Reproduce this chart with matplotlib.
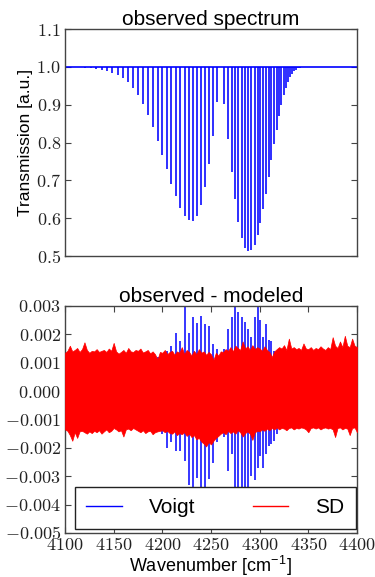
import numpy as np
import matplotlib
matplotlib.use("Agg")
import matplotlib.pyplot as plt
from matplotlib.ticker import FuncFormatter, MultipleLocator
from matplotlib.lines import Line2D

plt.rcParams['font.family'] = ['Liberation Sans', 'DejaVu Sans']
plt.rcParams['mathtext.fontset'] = 'cm'

# CO 2-0 band: line centres [cm-1] and transmission at line centre
p_centers = [4256.2, 4252.3, 4248.3, 4244.3, 4240.1, 4235.9, 4231.7, 4227.3, 4222.9, 4218.5,
             4213.9, 4209.3, 4204.6, 4199.9, 4195.1, 4190.2, 4185.2, 4180.2, 4175.1, 4170.0,
             4164.8, 4159.5, 4154.1, 4148.7, 4143.2, 4137.6, 4132.0, 4126.3, 4120.5, 4114.7]
p_trans = [0.906, 0.818, 0.743, 0.683, 0.635, 0.606, 0.593, 0.594, 0.606, 0.628,
           0.658, 0.691, 0.729, 0.766, 0.804, 0.841, 0.874, 0.901, 0.925, 0.944,
           0.960, 0.971, 0.978, 0.985, 0.989, 0.993, 0.995, 0.997, 0.998, 0.999]
r_centers = [4263.8, 4267.5, 4271.2, 4274.7, 4278.2, 4281.7, 4285.0, 4288.3, 4291.5, 4294.7,
             4297.8, 4300.8, 4303.7, 4306.6, 4309.4, 4312.1, 4314.8, 4317.4, 4319.9, 4322.3,
             4324.7, 4327.0, 4329.3, 4331.4, 4333.5, 4335.5, 4337.4, 4339.3, 4341.1]
r_trans = [0.903, 0.809, 0.722, 0.650, 0.590, 0.548, 0.522, 0.512, 0.517, 0.530,
           0.555, 0.586, 0.624, 0.665, 0.709, 0.753, 0.795, 0.834, 0.870, 0.900,
           0.925, 0.943, 0.960, 0.974, 0.982, 0.989, 0.993, 0.996, 0.998]
continuum = 1.0

# observed - modeled with Voigt profile, max / min at each line [1e-3]
p_voigt_hi = [1.5, 1.65, 2.3, 2.35, 2.65, 2.4, 2.6, 2.05, 3.0, 1.75, 2.05, 1.6, 1.4, 1.3, 1.2,
              1.1, 1.0, 0.9, 0.8, 0.7, 0.6, 0.5, 0.4, 0.3, 0.3, 0.2, 0.2, 0.1, 0.1, 0.1]
p_voigt_lo = [-1.8, -2.55, -3.1, -4.2, -3.9, -3.05, -3.5, -3.3, -2.45, -2.1, -2.1, -1.8, -2.0, -1.5, -1.3,
              -1.2, -1.1, -1.0, -0.9, -0.8, -0.7, -0.6, -0.5, -0.4, -0.3, -0.3, -0.2, -0.2, -0.1, -0.1]
r_voigt_hi = [1.5, 2.2, 2.6, 2.95, 2.8, 2.6, 2.45, 2.2, 1.9, 2.6, 2.95, 2.5, 1.9, 2.35, 1.8,
              1.75, 1.4, 1.3, 1.2, 1.0, 0.9, 0.8, 0.6, 0.5, 0.4, 0.3, 0.2, 0.2, 0.1]
r_voigt_lo = [-1.6, -2.8, -2.2, -4.3, -4.6, -4.4, -4.0, -3.8, -3.0, -3.15, -2.7, -2.3, -2.7, -2.2, -1.95,
              -1.85, -1.75, -1.5, -1.3, -1.2, -1.0, -0.9, -0.7, -0.6, -0.5, -0.4, -0.3, -0.2, -0.1]

# observed - modeled with speed-dependent (SD) profile: noise envelope [1e-3], 2.5 cm-1 bins from 4100
sd_upper = [1.35, 1.42, 1.60, 1.40, 1.45, 1.52, 1.38, 1.48, 1.72, 1.45, 1.35, 1.42, 1.40, 1.48, 1.38, 1.42, 1.45, 1.38, 1.50, 1.42,
            1.70, 1.40, 1.32, 1.38, 1.45, 1.35, 1.52, 1.40, 1.38, 1.45, 1.42, 1.50, 1.36, 1.40, 1.45, 1.33, 1.40, 1.30, 1.12, 1.38,
            1.35, 1.45, 1.30, 1.38, 1.42, 1.28, 1.40, 1.35, 1.55, 1.30, 1.45, 1.38, 1.25, 1.42, 1.30, 1.48, 1.35, 1.40, 1.28, 1.38,
            1.30, 1.10, 1.35, 1.25, 1.40, 1.38, 1.48, 1.42, 1.55, 1.40, 1.60, 1.52, 1.45, 1.75, 1.50, 1.58, 1.45, 1.62, 1.48, 1.55,
            1.50, 1.42, 1.58, 1.45, 1.38, 1.20, 1.40, 1.48, 1.55, 1.50, 1.62, 1.45, 1.85, 1.50, 1.55, 1.48, 1.52, 1.45, 1.68, 1.50,
            1.48, 1.55, 1.45, 1.52, 1.48, 1.58, 1.50, 1.45, 1.55, 1.48, 1.90, 1.60, 1.52, 1.75, 1.55, 1.95, 1.60, 1.55, 1.85, 1.60, 1.55]
sd_lower = [-1.35, -1.40, -1.55, -1.75, -1.45, -1.65, -1.42, -1.40, -1.45, -1.50, -1.42, -1.48, -1.40, -1.45, -1.38, -1.50, -1.42, -1.35, -1.45, -1.40,
            -1.30, -1.35, -1.42, -1.38, -1.60, -1.35, -1.32, -1.38, -1.30, -1.35, -1.40, -1.45, -1.38, -1.48, -1.42, -1.40, -1.52, -1.45, -1.42, -1.40,
            -1.38, -1.45, -1.40, -1.48, -1.50, -1.42, -1.55, -1.48, -1.52, -1.45, -1.58, -1.50, -1.62, -1.55, -1.70, -1.65, -1.78, -1.85, -1.95, -1.80,
            -1.88, -1.75, -1.65, -1.58, -1.50, -1.45, -1.52, -1.40, -1.48, -1.42, -1.50, -1.38, -1.45, -1.60, -1.48, -1.42, -1.50, -1.72, -1.45, -1.40,
            -1.42, -1.35, -1.40, -1.32, -1.38, -1.30, -1.35, -1.28, -1.35, -1.30, -1.32, -1.38, -1.30, -1.28, -1.35, -1.30, -1.32, -1.28, -1.30, -1.35,
            -1.45, -1.30, -1.28, -1.32, -1.28, -1.35, -1.30, -1.28, -1.32, -1.30, -1.35, -1.62, -1.30, -1.28, -1.35, -1.30, -1.32, -1.55, -1.30, -1.28, -1.45]
sd_step = 2.5
wn_min, wn_max = 4100, 4400


def math_fmt(decimals):
    return FuncFormatter(lambda v, pos: "$%.*f$" % (decimals, 0.0 if abs(v) < 1e-12 else v))


def style_axes(ax):
    for sp in ax.spines.values():
        sp.set_color('#444444')
        sp.set_linewidth(1.0)
    ax.tick_params(direction='in', length=4.5, width=0.8, color='#444444',
                   labelsize=13, labelcolor='#222222', pad=3)


fig = plt.figure(figsize=(3.75, 5.77), dpi=100)
ax1 = fig.add_axes([0.1733, 0.5563, 0.7787, 0.3934])
ax2 = fig.add_axes([0.1733, 0.0763, 0.7787, 0.3934])

# top: observed spectrum
centers = np.array(p_centers + r_centers)
trans = np.array(p_trans + r_trans)
ax1.axhline(continuum, color='b', lw=1.2)
ax1.vlines(centers, trans, continuum, color='b', lw=1.15)
ax1.set_xlim(wn_min, wn_max)
ax1.set_ylim(0.5, 1.1)
ax1.yaxis.set_major_locator(MultipleLocator(0.1))
ax1.yaxis.set_major_formatter(math_fmt(1))
ax1.set_xticks([])
style_axes(ax1)
ax1.tick_params(right=True)
ax1.set_ylabel("Transmission [a.u.]", fontsize=12.5, labelpad=2)
ax1.set_title("observed spectrum", fontsize=15, pad=3)

# bottom: residuals
v_hi = np.array(p_voigt_hi + r_voigt_hi) * 1e-3
v_lo = np.array(p_voigt_lo + r_voigt_lo) * 1e-3
ax2.vlines(centers, v_lo, v_hi, color='b', lw=1.1, zorder=2)
sd_wn = wn_min + sd_step * np.arange(len(sd_upper))
ax2.fill_between(sd_wn, np.array(sd_lower) * 1e-3, np.array(sd_upper) * 1e-3,
                 facecolor='r', edgecolor='r', lw=0.5, zorder=3)
ax2.set_xlim(wn_min, wn_max)
ax2.set_ylim(-0.005, 0.003)
ax2.yaxis.set_major_locator(MultipleLocator(0.001))
ax2.yaxis.set_major_formatter(math_fmt(3))
ax2.xaxis.set_major_locator(MultipleLocator(50))
ax2.xaxis.set_major_formatter(math_fmt(0))
style_axes(ax2)
ax2.tick_params(top=True, right=True)
ax2.set_xlabel("Wavenumber [cm$^{\\mathregular{-1}}$]", fontsize=13, labelpad=0)
ax2.set_title("observed - modeled", fontsize=15, pad=3)

handles = [Line2D([], [], color='b', lw=1.0), Line2D([], [], color='r', lw=1.0)]
leg = ax2.legend(handles, ["Voigt", "SD"], loc='lower left', ncol=2, mode='expand',
                 bbox_to_anchor=(0.034, 0.018, 0.962, 0.2), fontsize=15,
                 fancybox=False, framealpha=1, edgecolor='#222222',
                 handlelength=1.7, handletextpad=1.3, borderpad=0.55, borderaxespad=0)
leg.get_frame().set_linewidth(1.0)
leg.set_zorder(5)

fig.savefig("out.png", dpi=100)
